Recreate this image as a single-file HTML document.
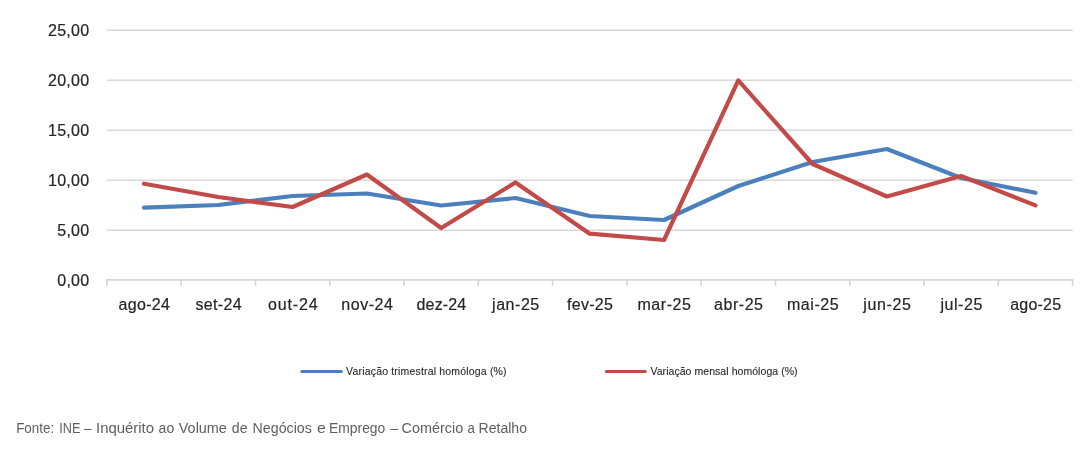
<!DOCTYPE html>
<html lang="pt"><head><meta charset="utf-8"><title>Comércio a Retalho</title>
<style>
html,body{margin:0;padding:0;background:#fff;}
body{width:1087px;height:450px;overflow:hidden;font-family:"Liberation Sans",sans-serif;}
svg{display:block}
.ax{font-family:"Liberation Sans",sans-serif;font-size:16px;fill:#262626;stroke:#262626;stroke-width:0.2px;}
.lg{font-family:"Liberation Sans",sans-serif;font-size:10.5px;fill:#2c2c2c;stroke:#2c2c2c;stroke-width:0.12px;}
.ft{font-family:"Liberation Sans",sans-serif;font-size:14px;fill:#5e5e5e;}
</style></head><body>
<svg width="1087" height="450" viewBox="0 0 1087 450">
<rect width="1087" height="450" fill="#fff"/>
<g stroke="#d8d8d8" stroke-width="1.5" fill="none">
<line x1="106.9" x2="1072.6" y1="230.35" y2="230.35"/>
<line x1="106.9" x2="1072.6" y1="180.35" y2="180.35"/>
<line x1="106.9" x2="1072.6" y1="130.35" y2="130.35"/>
<line x1="106.9" x2="1072.6" y1="80.35" y2="80.35"/>
<line x1="106.9" x2="1072.6" y1="30.35" y2="30.35"/>
</g>
<g stroke="#d6d6d6" stroke-width="1.7" fill="none">
<line x1="106.05000000000001" x2="1073.4499999999998" y1="279.8" y2="279.8"/>
<line x1="106.90" x2="106.90" y1="279.8" y2="285.8"/>
<line x1="181.18" x2="181.18" y1="279.8" y2="285.8"/>
<line x1="255.47" x2="255.47" y1="279.8" y2="285.8"/>
<line x1="329.75" x2="329.75" y1="279.8" y2="285.8"/>
<line x1="404.04" x2="404.04" y1="279.8" y2="285.8"/>
<line x1="478.32" x2="478.32" y1="279.8" y2="285.8"/>
<line x1="552.61" x2="552.61" y1="279.8" y2="285.8"/>
<line x1="626.89" x2="626.89" y1="279.8" y2="285.8"/>
<line x1="701.18" x2="701.18" y1="279.8" y2="285.8"/>
<line x1="775.46" x2="775.46" y1="279.8" y2="285.8"/>
<line x1="849.75" x2="849.75" y1="279.8" y2="285.8"/>
<line x1="924.03" x2="924.03" y1="279.8" y2="285.8"/>
<line x1="998.32" x2="998.32" y1="279.8" y2="285.8"/>
<line x1="1072.60" x2="1072.60" y1="279.8" y2="285.8"/>
</g>
<text class="ax" x="89.1" y="285.8" text-anchor="end" textLength="31.8" lengthAdjust="spacing">0,00</text>
<text class="ax" x="89.1" y="235.8" text-anchor="end" textLength="31.8" lengthAdjust="spacing">5,00</text>
<text class="ax" x="89.1" y="185.8" text-anchor="end" textLength="41.1" lengthAdjust="spacing">10,00</text>
<text class="ax" x="89.1" y="135.8" text-anchor="end" textLength="41.1" lengthAdjust="spacing">15,00</text>
<text class="ax" x="89.1" y="85.8" text-anchor="end" textLength="41.1" lengthAdjust="spacing">20,00</text>
<text class="ax" x="89.1" y="35.8" text-anchor="end" textLength="41.1" lengthAdjust="spacing">25,00</text>
<text class="ax" x="144.24" y="310.3" text-anchor="middle" textLength="51.3" lengthAdjust="spacing">ago-24</text>
<text class="ax" x="218.53" y="310.3" text-anchor="middle" textLength="46.3" lengthAdjust="spacing">set-24</text>
<text class="ax" x="292.81" y="310.3" text-anchor="middle" textLength="49.7" lengthAdjust="spacing">out-24</text>
<text class="ax" x="367.10" y="310.3" text-anchor="middle" textLength="51.6" lengthAdjust="spacing">nov-24</text>
<text class="ax" x="441.38" y="310.3" text-anchor="middle" textLength="49.6" lengthAdjust="spacing">dez-24</text>
<text class="ax" x="515.67" y="310.3" text-anchor="middle" textLength="47.2" lengthAdjust="spacing">jan-25</text>
<text class="ax" x="589.95" y="310.3" text-anchor="middle" textLength="46.1" lengthAdjust="spacing">fev-25</text>
<text class="ax" x="664.23" y="310.3" text-anchor="middle" textLength="53.5" lengthAdjust="spacing">mar-25</text>
<text class="ax" x="738.52" y="310.3" text-anchor="middle" textLength="48.9" lengthAdjust="spacing">abr-25</text>
<text class="ax" x="812.80" y="310.3" text-anchor="middle" textLength="51.6" lengthAdjust="spacing">mai-25</text>
<text class="ax" x="887.09" y="310.3" text-anchor="middle" textLength="47.7" lengthAdjust="spacing">jun-25</text>
<text class="ax" x="961.37" y="310.3" text-anchor="middle" textLength="41.9" lengthAdjust="spacing">jul-25</text>
<text class="ax" x="1035.66" y="310.3" text-anchor="middle" textLength="51.0" lengthAdjust="spacing">ago-25</text>
<polyline points="144.04,207.70 218.33,205.00 292.61,196.00 366.90,193.50 441.18,205.50 515.47,198.00 589.75,216.00 664.03,220.00 738.32,186.00 812.60,162.00 886.89,149.00 961.17,178.00 1035.46,192.80" fill="none" stroke="#4c80bd" stroke-width="4.2" stroke-linecap="round" stroke-linejoin="round"/>
<polyline points="144.04,183.70 218.33,197.00 292.61,207.00 366.90,174.50 441.18,228.00 515.47,182.50 589.75,233.70 664.03,240.00 738.32,80.40 812.60,164.00 886.89,196.50 961.17,176.00 1035.46,205.40" fill="none" stroke="#c24b49" stroke-width="4.2" stroke-linecap="round" stroke-linejoin="round"/>
<line x1="301.8" x2="341.3" y1="371.6" y2="371.6" stroke="#4c80bd" stroke-width="3" stroke-linecap="round"/>
<text class="lg" x="346.1" y="374.8" textLength="160.5" lengthAdjust="spacing">Variação trimestral homóloga (%)</text>
<line x1="606.3" x2="645.2" y1="371.6" y2="371.6" stroke="#c24b49" stroke-width="3" stroke-linecap="round"/>
<text class="lg" x="650.4" y="374.8" textLength="147.2" lengthAdjust="spacing">Variação mensal homóloga (%)</text>
<text class="ft" y="432.7"><tspan x="16.2" textLength="38.0" lengthAdjust="spacingAndGlyphs">Fonte:</tspan> <tspan x="59.3" textLength="21.1" lengthAdjust="spacingAndGlyphs">INE</tspan> <tspan x="84.0" textLength="7.5" lengthAdjust="spacingAndGlyphs">–</tspan> <tspan x="96.0" textLength="58.0" lengthAdjust="spacingAndGlyphs">Inquérito</tspan> <tspan x="158.6" textLength="15.6" lengthAdjust="spacingAndGlyphs">ao</tspan> <tspan x="178.8" textLength="48.1" lengthAdjust="spacingAndGlyphs">Volume</tspan> <tspan x="231.8" textLength="15.7" lengthAdjust="spacingAndGlyphs">de</tspan> <tspan x="252.6" textLength="59.3" lengthAdjust="spacingAndGlyphs">Negócios</tspan> <tspan x="316.9" textLength="8.8" lengthAdjust="spacingAndGlyphs">e</tspan> <tspan x="329.0" textLength="56.3" lengthAdjust="spacingAndGlyphs">Emprego</tspan> <tspan x="390.5" textLength="7.8" lengthAdjust="spacingAndGlyphs">–</tspan> <tspan x="401.6" textLength="61.7" lengthAdjust="spacingAndGlyphs">Comércio</tspan> <tspan x="467.4" textLength="7.4" lengthAdjust="spacingAndGlyphs">a</tspan> <tspan x="478.6" textLength="48.4" lengthAdjust="spacingAndGlyphs">Retalho</tspan></text>
</svg></body></html>
